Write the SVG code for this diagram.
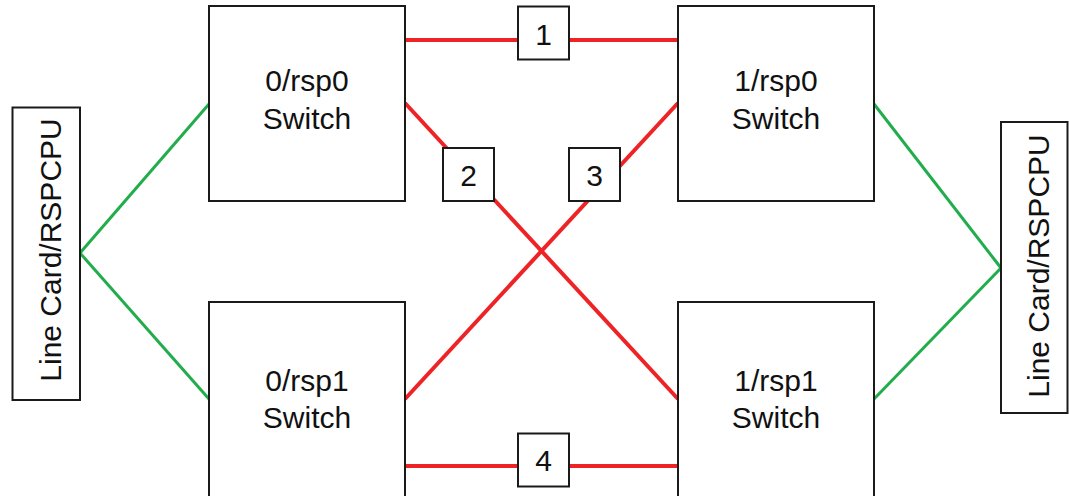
<svg xmlns="http://www.w3.org/2000/svg" width="1069" height="496" viewBox="0 0 1069 496">
<style>
.box{fill:#fff;stroke:#1a1a1a;stroke-width:2}
.lbl{font-family:"Liberation Sans",Arial,sans-serif;font-size:30px;fill:#111;text-anchor:middle}
.red{stroke:#ee2326;stroke-width:4;fill:none}
.grn{stroke:#21ad4b;stroke-width:3;fill:none}
</style>
<rect width="1069" height="496" fill="#fff"/>
<g id="connectors">
<line class="grn" x1="80" y1="253" x2="209" y2="104"/>
<line class="grn" x1="80" y1="253" x2="209" y2="399"/>
<line class="grn" x1="874" y1="104" x2="1001" y2="268"/>
<line class="grn" x1="874" y1="399" x2="1001" y2="268"/>
<line class="red" x1="405" y1="40" x2="678" y2="40"/>
<line class="red" x1="405" y1="466" x2="678" y2="466"/>
<line class="red" x1="405" y1="103" x2="678" y2="399"/>
<line class="red" x1="405" y1="399" x2="678" y2="103"/>
</g>
<g id="lc-left">
<rect class="box" x="12.5" y="107.5" width="67.5" height="292.5"/>
<text class="lbl" transform="translate(61,250) rotate(-90)">Line Card/RSPCPU</text>
</g>
<g id="lc-right">
<rect class="box" x="1001" y="122" width="66.5" height="291"/>
<text class="lbl" transform="translate(1049,266) rotate(-90)">Line Card/RSPCPU</text>
</g>
<g id="sw-0-rsp0">
<rect class="box" x="209" y="6" width="196" height="195"/>
<text class="lbl" x="307" y="91">0/rsp0</text>
<text class="lbl" x="307" y="128.5">Switch</text>
</g>
<g id="sw-1-rsp0">
<rect class="box" x="678" y="6" width="196" height="195"/>
<text class="lbl" x="776" y="91">1/rsp0</text>
<text class="lbl" x="776" y="128.5">Switch</text>
</g>
<g id="sw-0-rsp1">
<rect class="box" x="209" y="302" width="196" height="196"/>
<text class="lbl" x="307" y="391">0/rsp1</text>
<text class="lbl" x="307" y="428">Switch</text>
</g>
<g id="sw-1-rsp1">
<rect class="box" x="678" y="302" width="196" height="196"/>
<text class="lbl" x="776" y="391">1/rsp1</text>
<text class="lbl" x="776" y="428">Switch</text>
</g>
<g id="link-1">
<rect class="box" x="518" y="6.5" width="51" height="53"/>
<text class="lbl" x="543.5" y="45">1</text>
</g>
<g id="link-2">
<rect class="box" x="443" y="148" width="51" height="53"/>
<text class="lbl" x="468.5" y="186">2</text>
</g>
<g id="link-3">
<rect class="box" x="569" y="148" width="51" height="53"/>
<text class="lbl" x="594.5" y="186">3</text>
</g>
<g id="link-4">
<rect class="box" x="518" y="433.5" width="51" height="53"/>
<text class="lbl" x="543.5" y="471">4</text>
</g>
</svg>
